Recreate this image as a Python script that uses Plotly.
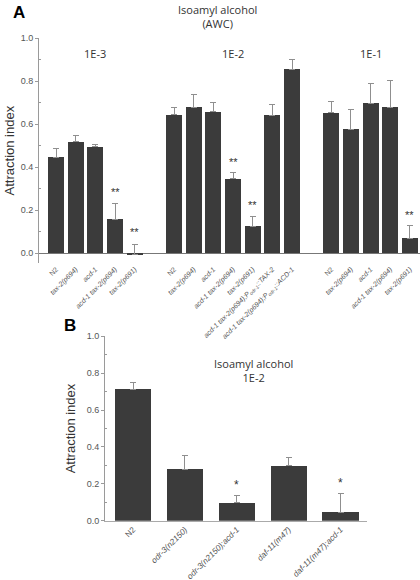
import plotly.graph_objects as go

# ---------------- Panel A data ----------------
group_names_a = ["1E-3", "1E-2", "1E-1"]
labels_a = [
    ["N2", "<i>tax-2(p694)</i>", "<i>acd-1</i>", "<i>acd-1 tax-2(p694)</i>", "<i>tax-2(p691)</i>"],
    ["N2", "<i>tax-2(p694)</i>", "<i>acd-1</i>", "<i>acd-1 tax-2(p694)</i>", "<i>tax-2(p691)</i>",
     "<i>acd-1 tax-2(p694);P<sub>odr-1</sub>::TAX-2</i>",
     "<i>acd-1 tax-2(p694);P<sub>odr-1</sub>::ACD-1</i>"],
    ["N2", "<i>tax-2(p694)</i>", "<i>acd-1</i>", "<i>acd-1 tax-2(p694)</i>", "<i>tax-2(p691)</i>"],
]
values_a = [
    [0.447, 0.518, 0.496, 0.158, -0.007],
    [0.645, 0.679, 0.659, 0.346, 0.127, 0.643, 0.857],
    [0.654, 0.578, 0.699, 0.680, 0.071],
]
errors_a = [
    [0.041, 0.031, 0.011, 0.075, 0.049],
    [0.034, 0.059, 0.041, 0.029, 0.046, 0.047, 0.045],
    [0.051, 0.092, 0.091, 0.126, 0.057],
]
sig_a = [
    ["", "", "", "**", "**"],
    ["", "", "", "**", "**", "", ""],
    ["", "", "", "", "**"],
]

# ---------------- Panel B data ----------------
labels_b = ["N2", "<i>odr-3(n2150)</i>", "<i>odr-3(n2150);acd-1</i>",
            "<i>daf-11(m47)</i>", "<i>daf-11(m47);acd-1</i>"]
values_b = [0.714, 0.279, 0.098, 0.297, 0.045]
errors_b = [0.036, 0.074, 0.040, 0.043, 0.104]
sig_b = ["", "", "*", "", "*"]

yticks = [0.0, 0.2, 0.4, 0.6, 0.8, 1.0]
ytick_text = ["0.0", "0.2", "0.4", "0.6", "0.8", "1.0"]

BAR = "#3b3b3b"
ERR = "#8f8f8f"
AXIS = "#9a9a9a"
TICKC = "#555555"
SANS = "Liberation Sans, Arial, sans-serif"
TITLEF = "Open Sans, sans-serif"

fig = go.Figure()

# positions for panel A: groups separated by one empty slot
xa, ta, va, ea, sa, group_centers = [], [], [], [], [], []
pos = 0
for gi, labs in enumerate(labels_a):
    start = pos
    for li, lab in enumerate(labs):
        xa.append(pos)
        ta.append(lab)
        va.append(values_a[gi][li])
        ea.append(errors_a[gi][li])
        sa.append(sig_a[gi][li])
        pos += 1
    group_centers.append((start + pos - 1) / 2)
    pos += 1

fig.add_trace(go.Bar(
    x=xa, y=va, width=0.82,
    marker=dict(color=BAR, line=dict(width=0)),
    error_y=dict(type="data", array=ea, arrayminus=[0] * len(ea), symmetric=False,
                 color=ERR, thickness=1, width=3),
    xaxis="x", yaxis="y", showlegend=False, hoverinfo="skip",
))

xb = list(range(len(labels_b)))
fig.add_trace(go.Bar(
    x=xb, y=values_b, width=0.7,
    marker=dict(color=BAR, line=dict(width=0)),
    error_y=dict(type="data", array=errors_b, arrayminus=[0] * len(errors_b), symmetric=False,
                 color=ERR, thickness=1, width=3),
    xaxis="x2", yaxis="y2", showlegend=False, hoverinfo="skip",
))

ann = []
for x, v, e, s in zip(xa, va, ea, sa):
    if s:
        ann.append(dict(x=x, y=max(v, 0) + e, xref="x", yref="y", text=s, showarrow=False,
                        yanchor="bottom", yshift=3, font=dict(family=SANS, size=11, color="#333")))
for x, v, e, s in zip(xb, values_b, errors_b, sig_b):
    if s:
        ann.append(dict(x=x, y=v + e, xref="x2", yref="y2", text=s, showarrow=False,
                        yanchor="bottom", yshift=1, font=dict(family=SANS, size=12, color="#333")))
for gc, gn in zip(group_centers, group_names_a):
    ann.append(dict(x=gc, y=0.93, xref="x", yref="y", text=gn, showarrow=False,
                    font=dict(family=TITLEF, size=11, color="#333")))

W, H = 420, 580
px_ann = [
    dict(x=217, y=16, text="Isoamyl alcohol<br>(AWC)", font=dict(family=TITLEF, size=11, color="#333")),
    dict(x=19, y=13, text="<b>A</b>", font=dict(family=SANS, size=17, color="#000")),
    dict(x=70, y=325, text="<b>B</b>", font=dict(family=SANS, size=17, color="#000")),
    dict(x=253, y=370, text="Isoamyl alcohol<br>1E-2", font=dict(family=TITLEF, size=11, color="#333")),
]
for a in px_ann:
    ann.append(dict(x=a["x"] / W, y=1 - a["y"] / H, xref="paper", yref="paper",
                    text=a["text"], showarrow=False, font=a["font"],
                    xanchor="center", yanchor="middle"))

yA_top, yA_bot = 38.3, 253.3 + 0.045 * 215
yB_top, yB_bot = 336.3, 520.7

fig.update_layout(
    width=W, height=H, margin=dict(l=0, r=0, t=0, b=0, autoexpand=False),
    plot_bgcolor="white", paper_bgcolor="white",
    bargap=0, hovermode=False,
    annotations=ann,
    xaxis=dict(domain=[36 / W, 1.0], range=[-1.02, 18.51], anchor="y", automargin=False,
               tickmode="array", tickvals=xa, ticktext=ta, tickangle=-45,
               tickfont=dict(family=SANS, size=7, color=TICKC),
               showline=False, ticks="", showgrid=False, zeroline=False),
    yaxis=dict(domain=[1 - yA_bot / H, 1 - yA_top / H], range=[-0.045, 1.0], anchor="free",
               position=38 / W, automargin=False,
               tickmode="array", tickvals=yticks, ticktext=ytick_text,
               tickfont=dict(family=SANS, size=9, color=TICKC),
               ticks="outside", ticklen=3, tickcolor=AXIS,
               minor=dict(tickvals=[0.1, 0.3, 0.5, 0.7, 0.9], ticks="inside", ticklen=2, tickcolor=AXIS),
               showline=True, linecolor=AXIS, linewidth=1,
               title=dict(text="Attraction index", font=dict(family=SANS, size=13, color="#333"),
                          standoff=2),
               showgrid=False, zeroline=True, zerolinecolor="#777", zerolinewidth=1),
    xaxis2=dict(domain=[105 / W, 367 / W], range=[-0.54, 4.51], anchor="y2", automargin=False,
                tickmode="array", tickvals=xb, ticktext=labels_b, tickangle=-45,
                tickfont=dict(family=SANS, size=8.2, color=TICKC),
                showline=True, linecolor="#aaaaaa", linewidth=1, ticks="",
                showgrid=False, zeroline=False),
    yaxis2=dict(domain=[1 - yB_bot / H, 1 - yB_top / H], range=[0, 1.0], anchor="x2", automargin=False,
                tickmode="array", tickvals=yticks, ticktext=ytick_text,
                tickfont=dict(family=SANS, size=9, color=TICKC),
                ticks="outside", ticklen=3, tickcolor=AXIS,
                minor=dict(tickvals=[0.1, 0.3, 0.5, 0.7, 0.9], ticks="inside", ticklen=2, tickcolor=AXIS),
                showline=True, linecolor=AXIS, linewidth=1,
                title=dict(text="Attraction index", font=dict(family=SANS, size=13, color="#333"),
                           standoff=8),
                showgrid=False, zeroline=False),
)

fig.write_html("out.html", config={"displayModeBar": False, "staticPlot": True},
               post_script="document.body.style.margin='0';")
